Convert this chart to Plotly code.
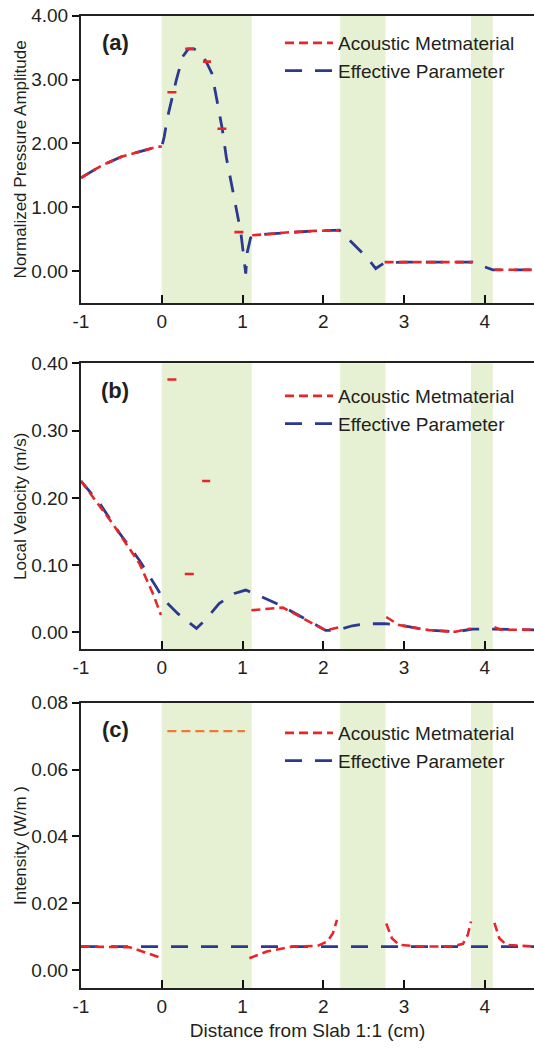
import plotly.graph_objects as go
from plotly.subplots import make_subplots

# ---------------- data ----------------
slab_regions = [(0.0, 1.114), (2.21, 2.77), (3.83, 4.10)]
x_range = [-1.0, 4.61]
x_tickvals = [-1, 0, 1, 2, 3, 4]
x_ticktext = ["-1", "0", "1", "2", "3", "4"]

# (a) Normalized pressure amplitude
a_eff_x = [-1, -0.75, -0.5, -0.25, -0.05, 0.0, 0.03, 0.07, 0.18, 0.26, 0.33, 0.40, 0.47, 0.55, 0.62, 0.68,
           0.75, 0.80, 0.89, 0.95, 0.98, 1.04, 1.06, 1.10, 1.15, 1.3, 1.6, 1.9, 2.2, 2.35, 2.55, 2.65, 2.72,
           2.76, 3.0, 3.5, 3.85, 3.97, 4.10, 4.3, 4.61]
a_eff_y = [1.46, 1.65, 1.79, 1.88, 1.95, 1.95, 2.10, 2.40, 2.99, 3.36, 3.48, 3.48, 3.43, 3.28, 3.10, 2.70,
           2.22, 1.78, 1.21, 0.85, 0.60, -0.04, 0.30, 0.52, 0.56, 0.58, 0.61, 0.63, 0.64, 0.45, 0.20, 0.04,
           0.09, 0.13, 0.14, 0.14, 0.14, 0.08, 0.02, 0.02, 0.02]
a_meta_x = [-1, -0.75, -0.5, -0.25, -0.05, 0.0, None,
            0.07, 0.21, None, 0.29, 0.41, None, 0.51, 0.61, None, 0.69, 0.80, None, 0.90, 1.03, None,
            1.12, 1.3, 1.6, 1.9, 2.2, None, 2.76, 3.0, 3.5, 3.85, None, 4.12, 4.3, 4.61]
a_meta_y = [1.46, 1.65, 1.79, 1.88, 1.95, 1.95, None,
            2.80, 2.80, None, 3.48, 3.48, None, 3.28, 3.28, None, 2.23, 2.23, None, 0.61, 0.61, None,
            0.56, 0.58, 0.61, 0.63, 0.64, None, 0.14, 0.14, 0.14, 0.14, None, 0.02, 0.02, 0.02]

# (b) Local velocity
b_eff_x = [-1, -0.77, -0.52, -0.275, -0.07, 0.03, 0.2, 0.43, 0.55, 0.71, 0.9, 1.04, 1.2, 1.46, 1.75, 2.03,
           2.16, 2.36, 2.53, 2.76, 2.94, 3.31, 3.64, 3.85, 4.0, 4.12, 4.34, 4.61]
b_eff_y = [0.225, 0.192, 0.147, 0.107, 0.068, 0.048, 0.028, 0.006, 0.020, 0.043, 0.058, 0.063, 0.055, 0.041,
           0.022, 0.003, 0.003, 0.010, 0.013, 0.013, 0.011, 0.0035, 0.001, 0.005, 0.005, 0.005, 0.004, 0.004]
b_meta_x = [-1, -0.61, -0.276, -0.11, -0.01, None,
            0.07, 0.21, None, 0.285, 0.40, None, 0.50, 0.60, None,
            1.11, 1.3, 1.5, 1.75, 2.03, 2.2, None,
            2.78, 2.94, 3.31, 3.64, 3.77, 3.83, None, 4.12, 4.2, 4.61]
b_meta_y = [0.225, 0.162, 0.1025, 0.058, 0.026, None,
            0.376, 0.376, None, 0.087, 0.087, None, 0.225, 0.225, None,
            0.033, 0.035, 0.037, 0.021, 0.003, 0.008, None,
            0.023, 0.011, 0.0035, 0.001, 0.0045, 0.006, None, 0.008, 0.004, 0.004]

# (c) Intensity
c_eff_x = [-1, 4.61]
c_eff_y = [0.007, 0.007]
c_meta_x = [-1, -0.5, -0.4, -0.2, 0.0, None,
            1.085, 1.3, 1.62, 1.93, 2.05, 2.12, 2.17, None,
            2.78, 2.85, 2.94, 3.2, 3.6, 3.73, 3.79, 3.83, None,
            4.12, 4.18, 4.27, 4.61]
c_meta_y = [0.007, 0.007, 0.0068, 0.0052, 0.0035, None,
            0.0035, 0.0055, 0.007, 0.0072, 0.0085, 0.011, 0.015, None,
            0.0139, 0.0095, 0.0075, 0.007, 0.007, 0.0078, 0.0105, 0.0145, None,
            0.0141, 0.0095, 0.0075, 0.007]
c_slab_x = [0.07, 1.03]
c_slab_y = [0.0715, 0.0715]

y_titles = ["Normalized Pressure Amplitude", "Local Velocity (m/s)", "Intensity (W/m )"]
y_ranges = [[-0.5, 4.0], [-0.025, 0.40], [-0.0055, 0.08]]
y_dticks = [1.0, 0.1, 0.02]
panel_labels = ["(a)", "(b)", "(c)"]
series_names = ["Acoustic Metmaterial", "Effective Parameter"]

# ---------------- style ----------------
W, H = 534, 1048
FONT = "Liberation Sans, Arial, sans-serif"
TXT = "#231f20"
RED = "#e8262a"
BLUE = "#2b3990"
ORANGE = "#ec7a3a"
GREEN = "#e6f0d2"
RED_DASH = "9px,5px"
BLUE_DASH = "17px,13px"

# pixel positions of the plot areas (top, bottom)
panel_px = [(15.7, 303.0), (363.3, 649.3), (702.7, 988.3)]
L = 81

fig = make_subplots(rows=3, cols=1)

data = [
    (a_meta_x, a_meta_y, a_eff_x, a_eff_y),
    (b_meta_x, b_meta_y, b_eff_x, b_eff_y),
    (c_meta_x, c_meta_y, c_eff_x, c_eff_y),
]
legend_ids = ["legend", "legend2", "legend3"]

for i, (mx, my, ex, ey) in enumerate(data):
    r = i + 1
    fig.add_trace(go.Scatter(x=ex, y=ey, mode="lines", name=series_names[1],
                             line=dict(color=BLUE, width=2.8, dash=BLUE_DASH),
                             legend=legend_ids[i], legendrank=2, connectgaps=False), row=r, col=1)
    fig.add_trace(go.Scatter(x=mx, y=my, mode="lines", name=series_names[0],
                             line=dict(color=RED, width=2.6, dash=RED_DASH),
                             legend=legend_ids[i], legendrank=1, connectgaps=False), row=r, col=1)

fig.add_trace(go.Scatter(x=c_slab_x, y=c_slab_y, mode="lines", showlegend=False,
                         line=dict(color=ORANGE, width=2.2, dash=RED_DASH)), row=3, col=1)

for i in range(3):
    r = i + 1
    top, bot = panel_px[i]
    dom = [1 - bot / H, 1 - top / H]
    xa = "xaxis" if i == 0 else f"xaxis{r}"
    ya = "yaxis" if i == 0 else f"yaxis{r}"
    fig.layout[ya].update(domain=dom)
    fig.layout[xa].update(domain=[0, 1])
    fig.update_xaxes(range=x_range, tickvals=x_tickvals, ticktext=x_ticktext, ticks="inside", ticklen=8,
                     tickwidth=2, tickcolor="#111", showline=True, linewidth=2, linecolor="#222",
                     mirror=True, showgrid=False, zeroline=False,
                     tickfont=dict(size=19, color=TXT, family=FONT),
                     automargin=False, row=r, col=1)
    fig.update_yaxes(range=y_ranges[i], dtick=y_dticks[i], tick0=0, tickformat=".2f", ticks="outside",
                     ticklen=7, tickwidth=2, tickcolor="#111", showline=True, linewidth=2,
                     linecolor="#222", mirror=False, showgrid=False, zeroline=False,
                     tickfont=dict(size=19, color=TXT, family=FONT),
                     title=dict(text=y_titles[i], font=dict(size=17, color=TXT, family=FONT), standoff=0),
                     automargin=False, row=r, col=1)
    xref = "x" if i == 0 else f"x{r}"
    yref = "y domain" if i == 0 else f"y{r} domain"
    for (x0, x1) in slab_regions:
        fig.add_shape(type="rect", xref=xref, yref=yref, x0=x0, x1=x1, y0=0, y1=1,
                      fillcolor=GREEN, line=dict(width=0), layer="below")
    # panel label
    fig.add_annotation(text=f"<b>{panel_labels[i]}</b>", xref="paper", yref="paper",
                       x=(115 - L) / (W - L), y=1 - (top + 27) / H, showarrow=False,
                       font=dict(size=22, color=TXT, family=FONT), xanchor="center", yanchor="middle")

fig.update_xaxes(title=dict(text="Distance from Slab 1:1 (cm)", font=dict(size=19, color=TXT, family=FONT),
                            standoff=8), row=3, col=1)

legend_tops = [24, 377, 714]
leg_common = dict(font=dict(size=19, color=TXT, family=FONT), bgcolor="rgba(0,0,0,0)",
                  xanchor="left", yanchor="top", itemwidth=48, tracegroupgap=0,
                  traceorder="normal")
layout_legends = {}
for i, lid in enumerate(legend_ids):
    layout_legends[lid] = dict(x=(280 - L) / (W - L), y=1 - legend_tops[i] / H, **leg_common)

fig.update_layout(
    width=W, height=H,
    margin=dict(l=L, r=0, t=0, b=0),
    paper_bgcolor="white", plot_bgcolor="white",
    font=dict(family=FONT, color=TXT),
    **layout_legends,
)
fig.write_html("out.html", config={"displayModeBar": False},
               post_script="document.body.style.margin='0';document.body.style.overflow='hidden';")
